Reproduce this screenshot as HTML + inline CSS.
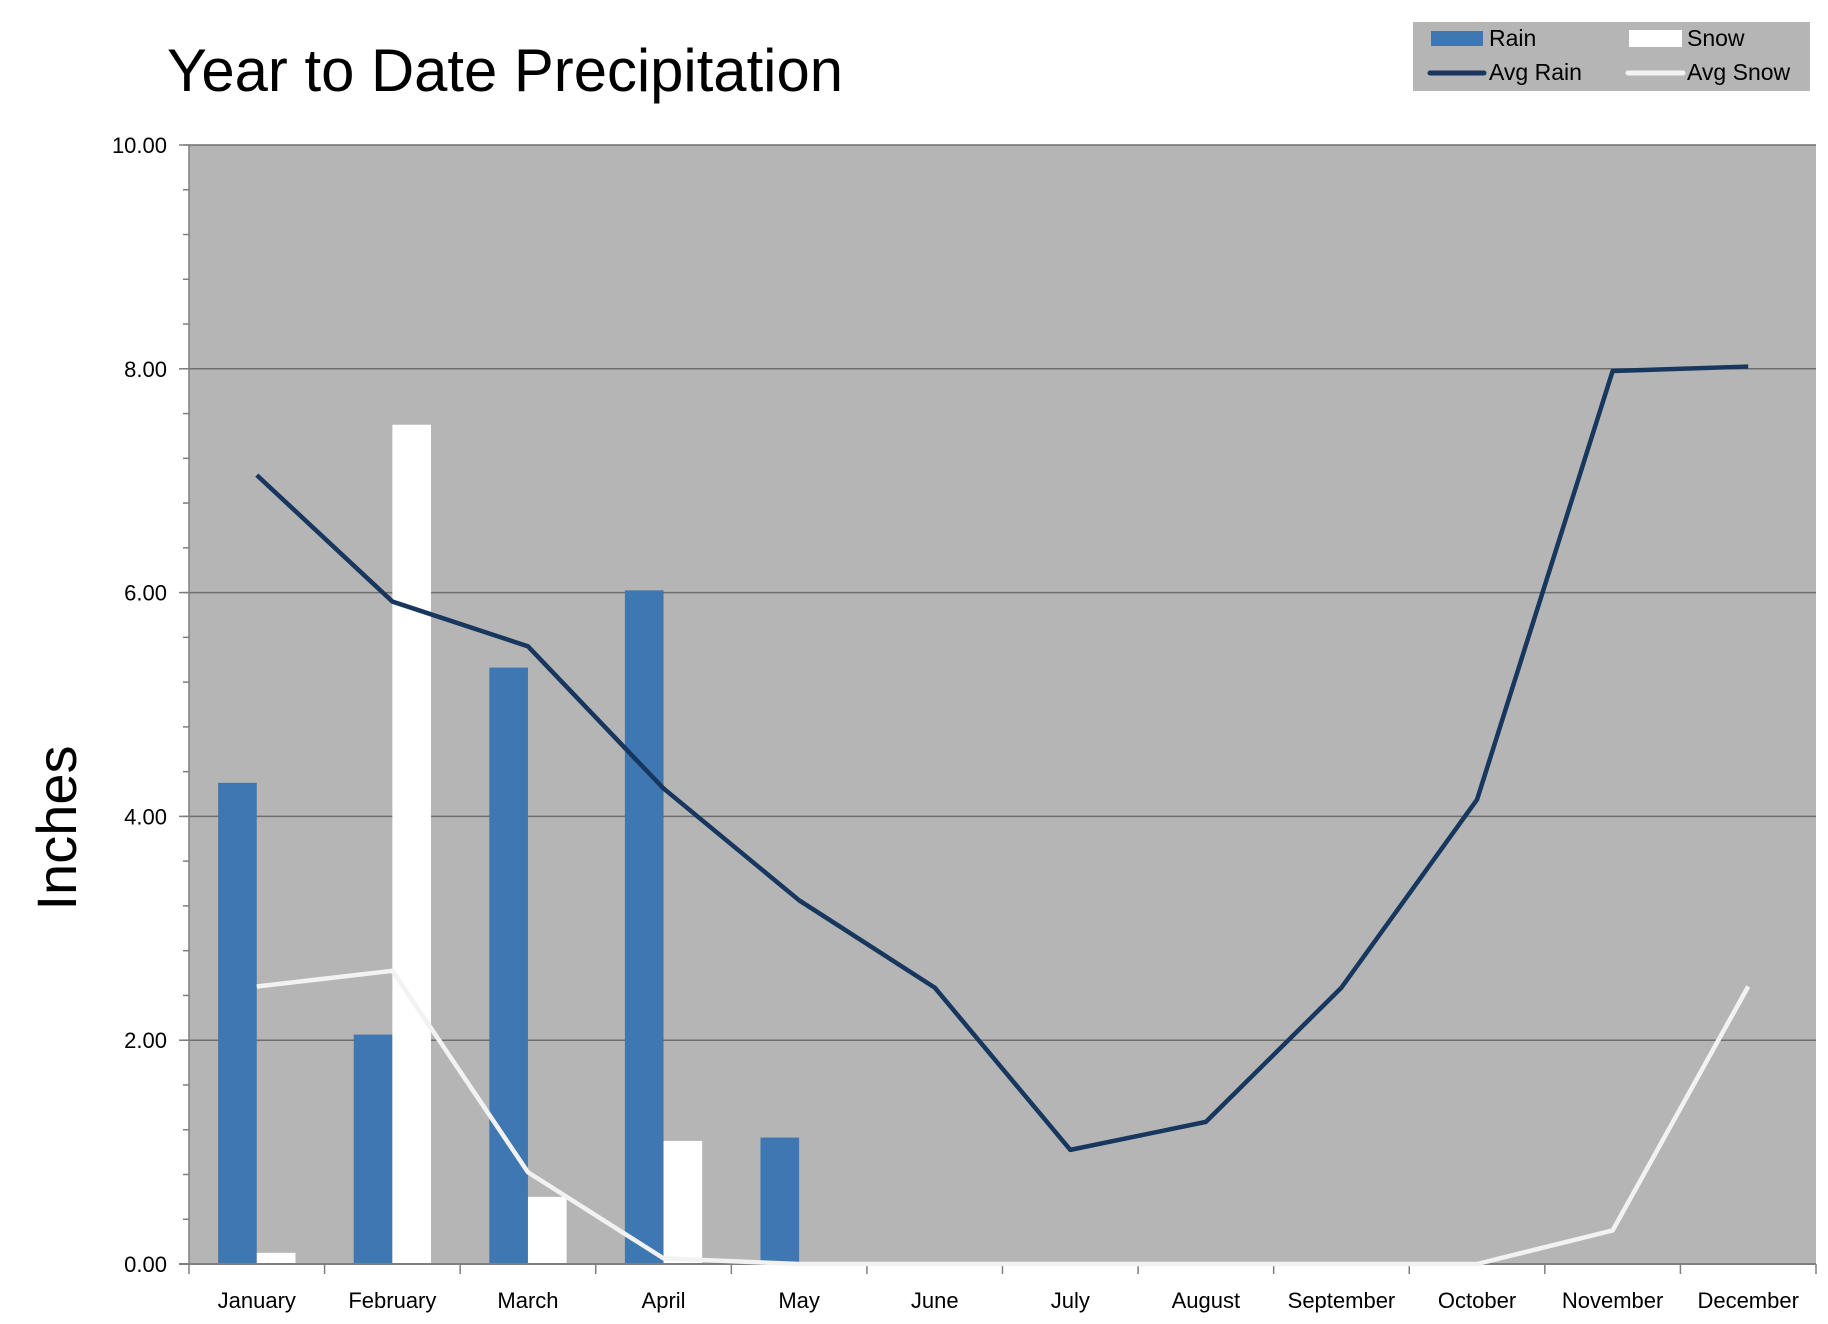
<!DOCTYPE html>
<html><head><meta charset="utf-8"><style>
html,body{margin:0;padding:0;background:#fff;}
svg{display:block;font-family:"Liberation Sans",sans-serif;}
</style></head><body>
<svg id="chart" width="1828" height="1324" viewBox="0 0 1828 1324">
<text x="167" y="91" font-size="60" textLength="676" lengthAdjust="spacingAndGlyphs">Year to Date Precipitation</text>
<g>
<rect x="1413" y="22" width="397" height="69" fill="#b5b5b5"/>
<rect x="1431" y="31" width="52" height="15" fill="#3f77b2"/>
<text x="1489" y="46" font-size="23">Rain</text>
<rect x="1629" y="30" width="53" height="17" fill="#fff"/>
<text x="1687" y="46" font-size="23">Snow</text>
<line x1="1430" y1="73" x2="1484" y2="73" stroke="#17375e" stroke-width="5" stroke-linecap="round"/>
<text x="1489" y="80" font-size="23">Avg Rain</text>
<line x1="1628" y1="73" x2="1683" y2="73" stroke="#f2f2f2" stroke-width="5" stroke-linecap="round"/>
<text x="1687" y="80" font-size="23">Avg Snow</text>
</g>
<text transform="translate(76,828) rotate(-90)" text-anchor="middle" font-size="56">Inches</text>
<g id="plot"></g>
</svg>
<script>
const categories=["January","February","March","April","May","June","July","August","September","October","November","December"];
const rain=[4.3,2.05,5.33,6.02,1.13,0,0,0,0,0,0,0];
const snow=[0.1,7.5,0.6,1.1,0,0,0,0,0,0,0,0];
const avgRain=[7.05,5.92,5.52,4.25,3.25,2.47,1.02,1.27,2.47,4.15,7.98,8.02];
const avgSnow=[2.48,2.62,0.82,0.05,0,0,0,0,0,0,0.3,2.48];
const yTicks=[0,2,4,6,8,10];
const yMax=10;
const L=189,R=1816,T=145,B=1264;
const NS="http://www.w3.org/2000/svg";
const g=document.getElementById('plot');
function mk(t,a){const e=document.createElementNS(NS,t);for(const k in a)e.setAttribute(k,a[k]);g.appendChild(e);return e;}
const y=v=>B-(v/yMax)*(B-T);
const cw=(R-L)/categories.length;
const xc=i=>L+cw*(i+0.5);
const bw=cw*0.285;
let e=mk('rect',{x:L,y:T,width:R-L,height:B-T,fill:'#b5b5b5'});


for(let v=0;v<=yMax+1e-9;v+=0.4){e=mk('line',{x1:L-6,x2:L,y1:y(v),y2:y(v),stroke:'#7f7f7f','stroke-width':1.5});

}
yTicks.forEach(v=>{
 if(v>0){e=mk('line',{x1:L,x2:R,y1:y(v),y2:y(v),stroke:'#6e6e6e','stroke-width':1.5});
 
 }
 e=mk('line',{x1:L-10,x2:L,y1:y(v),y2:y(v),stroke:'#7f7f7f','stroke-width':1.5});
 
 
 e=mk('text',{x:L-22,y:y(v)+8,'font-size':22,'text-anchor':'end'});e.textContent=v.toFixed(2);
 
 
});
categories.forEach((c,i)=>{
 e=mk('rect',{x:xc(i)-bw,y:y(rain[i]),width:bw,height:B-y(rain[i]),fill:'#3f77b2'});
 
 
 e=mk('rect',{x:xc(i),y:y(snow[i]),width:bw,height:B-y(snow[i]),fill:'#ffffff'});
 
 
 e=mk('text',{x:xc(i),y:1308,'font-size':22,'text-anchor':'middle'});e.textContent=c;
 
 
});
for(let i=0;i<=categories.length;i++){e=mk('line',{x1:L+cw*i,x2:L+cw*i,y1:B,y2:B+10,stroke:'#7f7f7f','stroke-width':1.5});

}
e=mk('line',{x1:L,x2:L,y1:T,y2:B,stroke:'#7f7f7f','stroke-width':1.5});


e=mk('line',{x1:L-10,x2:R,y1:B,y2:B,stroke:'#7f7f7f','stroke-width':2});


function line(arr,col,name){const p=arr.map((v,i)=>xc(i)+','+y(v)).join(' ');
 const el=mk('polyline',{points:p,fill:'none',stroke:col,'stroke-width':4.5,'stroke-linejoin':'round'});
 
 }
line(avgSnow,'#f2f2f2','line-avg-snow');
line(avgRain,'#17375e','line-avg-rain');
</script>
</body></html>
